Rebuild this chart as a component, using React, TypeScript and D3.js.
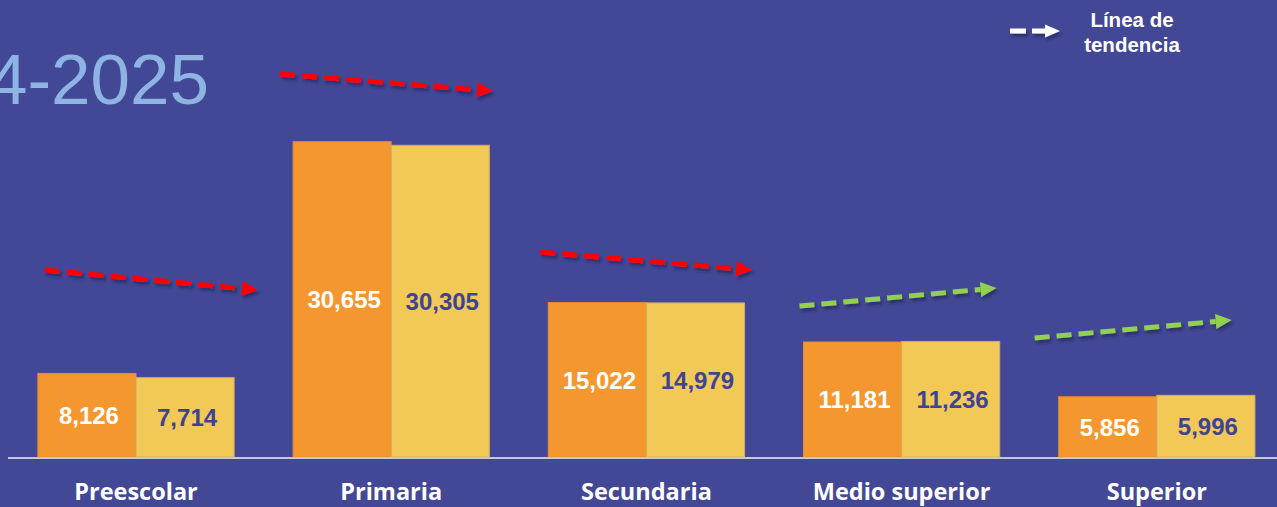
import * as d3 from "d3";

const categories = ["Preescolar", "Primaria", "Secundaria", "Medio superior", "Superior"];
const seriesNames = ["2023-2024", "2024-2025"];
const values2324 = [8126, 30655, 15022, 11181, 5856];
const values2425 = [7714, 30305, 14979, 11236, 5996];

// trend arrows, in data units (start -> end)
const trendFrom = [18180, 37235, 19930, 14680, 11570];
const trendTo = [16236, 35582, 18180, 16430, 13320];

const width = 1277;
const height = 507;
const baseY = 457;

const colors = { bg: "#434896", orange: "#F4972F", yellow: "#F2C856", dark: "#3E4493", title: "#8EB4E3" };

// arrow horizontal extent, relative to each group's left edge
const arrowDx = [
  [7, 220],
  [-13, 200],
  [-8, 204],
  [-4, 193],
  [-24, 173],
];

function Arrow({ x1, y1, x2, y2, color, w = 5, head = 16, headW = 15, dash = "15,7" }: any) {
  const ang = Math.atan2(y2 - y1, x2 - x1);
  const bx = x2 - head * Math.cos(ang);
  const by = y2 - head * Math.sin(ang);
  const nx = -Math.sin(ang) * headW / 2;
  const ny = Math.cos(ang) * headW / 2;
  return (
    <g filter="url(#shadow)">
      <line x1={x1} y1={y1} x2={bx} y2={by} stroke={color} strokeWidth={w} strokeDasharray={dash} />
      <polygon points={`${x2},${y2} ${bx + nx},${by + ny} ${bx - nx},${by - ny}`} fill={color} />
    </g>
  );
}

export default function App() {
  const x = d3.scaleBand<string>().domain(categories).range([8.4, 1284.4]).paddingInner(0.231).paddingOuter(0.1155);
  const xs = d3.scaleBand<string>().domain(seriesNames).range([0, x.bandwidth()]);
  const y = d3.scaleLinear().domain([0, 35000]).range([baseY, baseY - 360]);
  const fmt = d3.format(",");

  return (
    <div style={{ position: "fixed", left: 0, top: 0 }}>
      <svg width={width} height={height} style={{ display: "block", background: colors.bg }}>
        <defs>
          <filter id="shadow" x="-10%" y="-50%" width="120%" height="200%">
            <feDropShadow dx="2" dy="3" stdDeviation="1.8" floodColor="#1a1d50" floodOpacity="0.6" />
          </filter>
        </defs>
        <rect width={width} height={height} fill={colors.bg} />

        <text x={209} y={104} textAnchor="end" fill={colors.title} fontFamily="Liberation Sans, Arial, sans-serif" fontSize={71}>
          4-2025
        </text>

        {/* legend */}
        <Arrow x1={1010} y1={31} x2={1060} y2={31} color="#FFFFFF" head={15} headW={13} dash="16,6" />
        <text fill="#fff" fontFamily="Liberation Sans, Arial, sans-serif" fontWeight="bold" fontSize={20.5} textAnchor="middle">
          <tspan x={1132} y={27}>Línea de</tspan>
          <tspan x={1132} y={52}>tendencia</tspan>
        </text>

        {categories.map((c, i) => {
          const gx = x(c)!;
          const vals = [values2324[i], values2425[i]];
          return (
            <g key={c}>
              {vals.map((v, j) => {
                const bx = gx + xs(seriesNames[j])!;
                const top = y(v);
                return (
                  <g key={j}>
                    <rect x={bx} y={top} width={xs.bandwidth()} height={baseY - top}
                      fill={j === 0 ? colors.orange : colors.yellow}
                      stroke={j === 0 ? "#E08C35" : "#D2AE5A"} strokeWidth={1} />
                    <text x={bx + xs.bandwidth() / 2 + 2} y={(top + baseY) / 2 + 9}
                      textAnchor="middle" fill={j === 0 ? "#fff" : colors.dark}
                      fontFamily="Liberation Sans, Arial, sans-serif" fontWeight="bold" fontSize={24}>
                      {fmt(v)}
                    </text>
                  </g>
                );
              })}
              <text x={gx + x.bandwidth() / 2} y={500} textAnchor="middle" fill="#fff"
                fontFamily="Open Sans, sans-serif" fontWeight="bold" fontSize={23.5}>
                {c}
              </text>
              <Arrow x1={gx + arrowDx[i][0]} y1={y(trendFrom[i])} x2={gx + arrowDx[i][1]} y2={y(trendTo[i])}
                color={values2425[i] < values2324[i] ? "#FF0000" : "#92D050"} />
            </g>
          );
        })}

        <line x1={8} x2={width} y1={baseY + 1} y2={baseY + 1} stroke="#C4C6DA" strokeWidth={2} />
      </svg>
    </div>
  );
}
